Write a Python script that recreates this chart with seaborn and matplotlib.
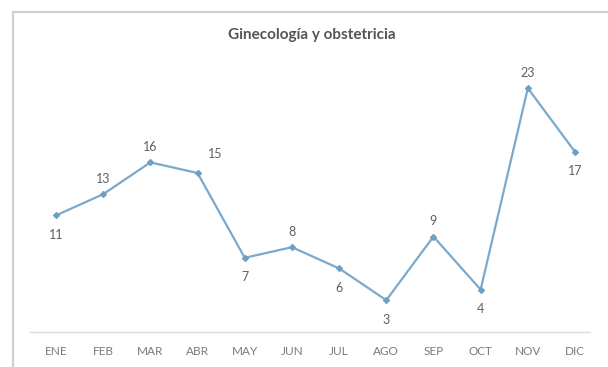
import matplotlib
matplotlib.use("Agg")
import matplotlib.pyplot as plt
import seaborn as sns
import pandas as pd
from matplotlib.patches import Rectangle

months = ["ENE", "FEB", "MAR", "ABR", "MAY", "JUN", "JUL", "AGO", "SEP", "OCT", "NOV", "DIC"]
cases = [11, 13, 16, 15, 7, 8, 6, 3, 9, 4, 23, 17]
label_side = ["below", "above", "above", "above", "below", "above",
              "below", "below", "above", "below", "above", "below"]
title = "Ginecología y obstetricia"

sns.set_style("white")
plt.rcParams["font.family"] = ["Lato", "DejaVu Sans"]

df = pd.DataFrame({"mes": range(len(months)), "casos": cases})

fig = plt.figure(figsize=(6.08, 3.67), dpi=100)
fig.patch.set_facecolor("white")

# chart frame (open to the right and bottom edges)
fig.patches.append(Rectangle((13 / 608, -0.05), 1.2, 0.05 + 355 / 367,
                             transform=fig.transFigure, fill=False,
                             edgecolor="#d0d0d0", linewidth=1.6))

ax = fig.add_axes([30 / 608, 35 / 367, 560 / 608, 265 / 367])
line_color = "#7aa9cd"
sns.lineplot(data=df, x="mes", y="casos", ax=ax, color=line_color,
             linewidth=1.6, marker="D", markersize=3.2,
             markeredgecolor="#6f9fc2", markerfacecolor="#6f9fc2")

ax.set_xlim(-0.551, 11.318)
ax.set_ylim(0, 25)
ax.set_xticks(range(len(months)))
ax.set_xticklabels(months, fontsize=8.5, color="#7a7a7a")
ax.tick_params(axis="x", length=0, pad=10)
ax.set_yticks([])
ax.set_xlabel("")
ax.set_ylabel("")
for s in ["top", "left", "right"]:
    ax.spines[s].set_visible(False)
ax.spines["bottom"].set_color("#dcdcdc")
ax.spines["bottom"].set_linewidth(1.0)

for i, (v, side) in enumerate(zip(cases, label_side)):
    dy = 11 if side == "above" else -14
    dx = 0
    if i == 3:
        dx, dy = 13, 14
    ax.annotate(str(v), (i, v), xytext=(dx, dy), textcoords="offset points",
                ha="center", va="center", fontsize=9, color="#606060")

fig.text(312 / 608, 1 - 35 / 367, title, ha="center", va="center",
         fontsize=11, fontweight="bold", color="#555555")

fig.savefig("out.png", dpi=100)
